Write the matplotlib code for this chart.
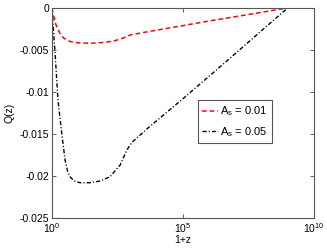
import numpy as np
import matplotlib
matplotlib.use("Agg")
import matplotlib.pyplot as plt

plt.rcParams['font.family'] = ['Liberation Sans', 'DejaVu Sans']
plt.rcParams['mathtext.fontset'] = 'custom'
plt.rcParams['mathtext.rm'] = 'Liberation Sans'
plt.rcParams['mathtext.it'] = 'Liberation Sans:italic'

# log10(1+z) and Q(z)
logz_a = [0, 0.05, 0.15, 0.3, 0.45, 0.7, 1.0, 1.5, 2.0, 2.4, 2.7, 3.0,
          3.7, 5.0, 6.0, 7.4, 8.97]
q_a = [0, -0.0008, -0.0020, -0.0030, -0.0036, -0.0040, -0.00415, -0.0042,
       -0.0041, -0.0039, -0.0036, -0.0032, -0.0028, -0.0021, -0.00155,
       -0.00083, 0]

logz_b = [0, 0.05, 0.11, 0.23, 0.37, 0.5, 0.6, 0.69, 0.85, 1.07, 1.45, 1.83,
          2.21, 2.6, 2.86, 3.05, 3.66, 5.0, 6.79, 8.0, 9.0]
q_b = [0, -0.0025, -0.005, -0.011, -0.0149, -0.0181, -0.0195, -0.0201,
       -0.0206, -0.0208, -0.0208, -0.0206, -0.0201, -0.0187, -0.0169, -0.0160,
       -0.0143, -0.0108, -0.0060, -0.0027, 0]

labels = ['A$_{\\mathrm{s}}$ = 0.01', 'A$_{\\mathrm{s}}$ = 0.05']

fig = plt.figure(figsize=(3.27, 2.49), dpi=100)
ax = fig.add_axes([0.159, 0.1245, 0.801, 0.8435])

ax.semilogx(10 ** np.array(logz_a), q_a, color='red', linestyle=(0, (3, 2)),
            lw=1.1, label=labels[0])
ax.semilogx(10 ** np.array(logz_b), q_b, color='black',
            linestyle=(0, (3, 1.5, 0.8, 1.5)), lw=1.0, label=labels[1])

ax.set_xlim(1, 1e10)
ax.set_ylim(-0.025, 0)
ax.set_xticks([1, 1e5, 1e10])
ax.xaxis.set_minor_locator(matplotlib.ticker.NullLocator())
ax.set_yticks([-0.025, -0.02, -0.015, -0.01, -0.005, 0])
ax.set_yticklabels(['-0.025', '-0.02', '-0.015', '-0.01', '-0.005', '0'])
ax.tick_params(direction='in', length=3, width=0.6, top=True, right=True,
               labelsize=7.5, pad=2, color='#444444')
for s in ax.spines.values():
    s.set_color('#555555')
    s.set_linewidth(0.8)

ax.set_xlabel('1+z', fontsize=7.5, labelpad=0)
ax.set_ylabel('Q(z)', fontsize=7.5, labelpad=4)

leg = ax.legend(loc='upper left', bbox_to_anchor=(0.557, 0.562), fontsize=8,
                handlelength=1.4, handletextpad=0.2, borderpad=0.4,
                labelspacing=0.6, fancybox=False, framealpha=1,
                borderaxespad=0)
leg.get_frame().set_edgecolor('#555555')
leg.get_frame().set_linewidth(0.8)

fig.savefig('out.png', dpi=100)
